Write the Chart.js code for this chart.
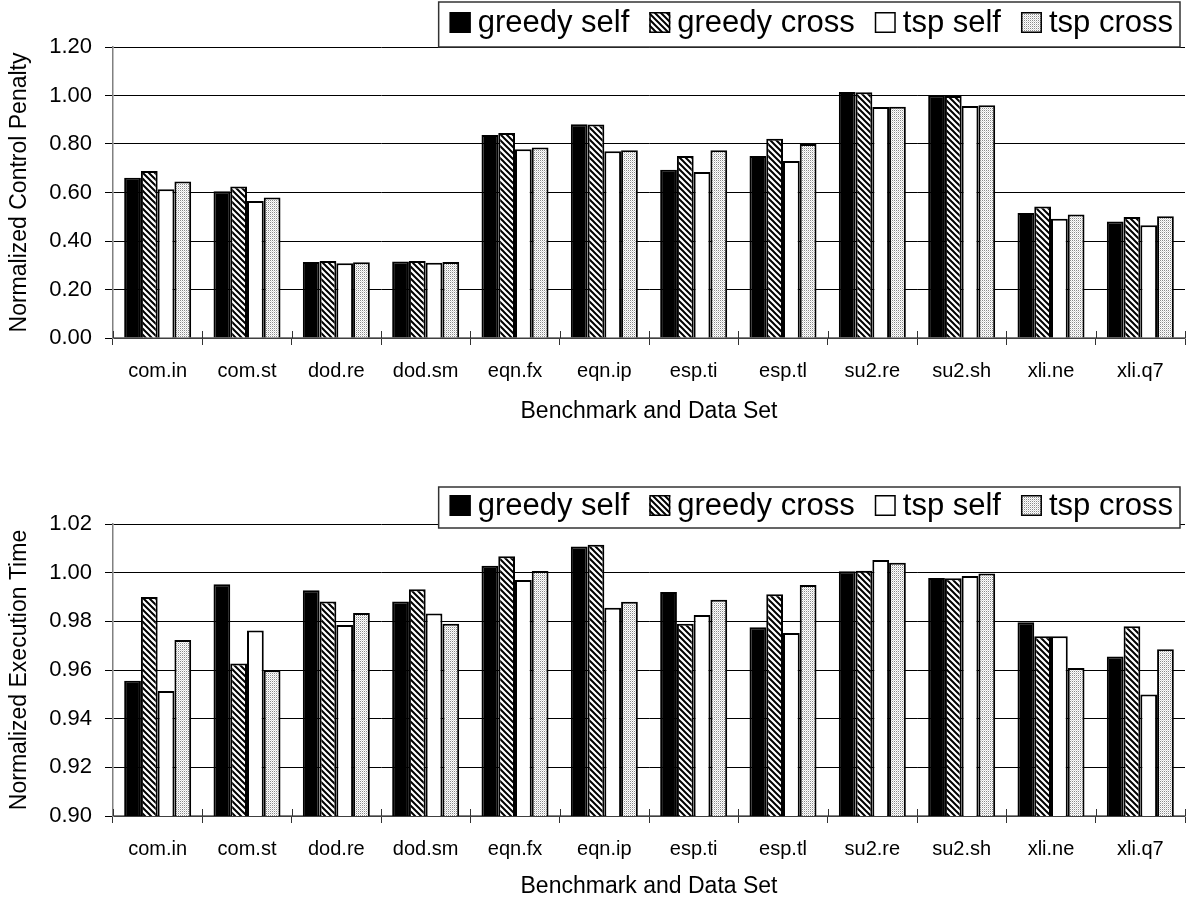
<!DOCTYPE html>
<html>
<head>
<meta charset="utf-8">
<script src="https://cdn.jsdelivr.net/npm/chart.js@4.4.0/dist/chart.umd.min.js"></script>
<style>
  body { margin: 0; background: #fff; }
  .wrap { position: absolute; left: 0; width: 1187px; }
</style>
</head>
<body>
<div class="wrap" style="top:0;height:425px"><canvas id="penalty" width="1187" height="425"></canvas></div>
<div class="wrap" style="top:425px;height:475px"><canvas id="exec" width="1187" height="475"></canvas></div>
<script>
// benchmarks and series
const benchmarks = ['com.in', 'com.st', 'dod.re', 'dod.sm', 'eqn.fx', 'eqn.ip', 'esp.ti', 'esp.tl', 'su2.re', 'su2.sh', 'xli.ne', 'xli.q7'];
const seriesNames = ['greedy self', 'greedy cross', 'tsp self', 'tsp cross'];

// top chart: normalized control penalty
const penaltyGreedySelf  = [0.661, 0.605, 0.313, 0.315, 0.837, 0.881, 0.694, 0.751, 1.014, 0.999, 0.515, 0.480];
const penaltyGreedyCross = [0.689, 0.625, 0.318, 0.318, 0.845, 0.880, 0.751, 0.822, 1.013, 0.998, 0.542, 0.499];
const penaltyTspSelf     = [0.613, 0.565, 0.308, 0.310, 0.778, 0.770, 0.685, 0.730, 0.953, 0.957, 0.492, 0.465];
const penaltyTspCross    = [0.645, 0.579, 0.312, 0.313, 0.786, 0.774, 0.774, 0.800, 0.954, 0.960, 0.509, 0.502];
const penaltyTicks = [0, 0.2, 0.4, 0.6, 0.8, 1.0, 1.2];

// bottom chart: normalized execution time
const execGreedySelf  = [0.9556, 0.9952, 0.9928, 0.9882, 1.0028, 1.0108, 0.9921, 0.9776, 1.0006, 0.9978, 0.9796, 0.9655];
const execGreedyCross = [0.9900, 0.9627, 0.9881, 0.9932, 1.0067, 1.0115, 0.9790, 0.9911, 1.0008, 0.9977, 0.9739, 0.9780];
const execTspSelf     = [0.9514, 0.9762, 0.9785, 0.9832, 0.9970, 0.9856, 0.9826, 0.9752, 1.0052, 0.9986, 0.9739, 0.9499];
const execTspCross    = [0.9723, 0.9599, 0.9834, 0.9790, 1.0007, 0.9880, 0.9889, 0.9949, 1.0041, 0.9997, 0.9608, 0.9685];
const execTicks = [0.90, 0.92, 0.94, 0.96, 0.98, 1.00, 1.02];

const FONT = '"Liberation Sans", Arial, Helvetica, sans-serif';
Chart.defaults.font.family = FONT;
Chart.defaults.color = '#000';

// fill patterns
function hatchPattern(ctx) {
  const c = document.createElement('canvas');
  c.width = 6; c.height = 6;
  const g = c.getContext('2d');
  g.fillStyle = '#fff';
  g.fillRect(0, 0, 6, 6);
  g.strokeStyle = '#000';
  g.lineWidth = 2;
  g.beginPath();
  g.moveTo(-1, -1); g.lineTo(7, 7);
  g.moveTo(-1, 5); g.lineTo(1, 7);
  g.moveTo(5, -1); g.lineTo(7, 1);
  g.stroke();
  return ctx.createPattern(c, 'repeat');
}

function dotPattern(ctx) {
  const c = document.createElement('canvas');
  c.width = 2; c.height = 2;
  const g = c.getContext('2d');
  g.fillStyle = '#fff';
  g.fillRect(0, 0, 2, 2);
  g.fillStyle = '#8a8a8a';
  g.fillRect(0, 0, 1, 1);
  g.fillStyle = '#d8d8d8';
  g.fillRect(1, 1, 1, 1);
  return ctx.createPattern(c, 'repeat');
}

// legend drawn in a box, right aligned
const boxLegend = {
  id: 'boxLegend',
  afterDraw(chart, args, opts) {
    const ctx = chart.ctx;
    ctx.save();
    ctx.font = '31px ' + FONT;
    const mk = 21, gapText = 7, gapItem = 20, padL = 11, padR = 7;
    const items = chart.data.datasets.map(ds => ({
      label: ds.label, fill: ds.backgroundColor, w: ctx.measureText(ds.label).width
    }));
    const total = padL + padR + items.reduce((s, it) => s + mk + gapText + it.w, 0) + gapItem * (items.length - 1);
    const left = opts.right - total;
    ctx.fillStyle = '#fff';
    ctx.fillRect(left, opts.top, total, opts.height);
    ctx.strokeStyle = '#333';
    ctx.lineWidth = 1.5;
    ctx.strokeRect(left, opts.top, total, opts.height);
    const cy = opts.top + opts.height / 2 - 2;
    let x = left + padL;
    items.forEach(it => {
      ctx.fillStyle = it.fill;
      ctx.fillRect(x, cy - mk / 2, mk, mk);
      ctx.strokeStyle = '#000';
      ctx.lineWidth = 1.5;
      ctx.strokeRect(x + 0.75, cy - mk / 2 + 0.75, mk - 1.5, mk - 1.5);
      ctx.fillStyle = '#000';
      ctx.textBaseline = 'middle';
      ctx.textAlign = 'left';
      ctx.fillText(it.label, x + mk + gapText, cy + 1);
      x += mk + gapText + it.w + gapItem;
    });
    ctx.restore();
  }
};

// category ticks poke above the axis too
const crossTicks = {
  id: 'crossTicks',
  afterDatasetsDraw(chart) {
    const xs = chart.scales.x;
    const y0 = chart.chartArea.bottom;
    const n = chart.data.labels.length;
    const ctx = chart.ctx;
    ctx.save();
    ctx.strokeStyle = '#333';
    ctx.lineWidth = 1;
    for (let i = 0; i <= n; i++) {
      const px = Math.round(xs.left + i * xs.width / n) + 0.5;
      ctx.beginPath();
      ctx.moveTo(px, y0 - 7);
      ctx.lineTo(px, y0);
      ctx.stroke();
    }
    ctx.restore();
  }
};

function makeChart(id, series, yTicks, yTitle, top, bottomHeight, legendTop, legendHeight) {
  const canvas = document.getElementById(id);
  const ctx = canvas.getContext('2d');
  const fills = ['#000', hatchPattern(ctx), '#fff', dotPattern(ctx)];
  return new Chart(ctx, {
    type: 'bar',
    data: {
      labels: benchmarks,
      datasets: series.map((vals, i) => ({
        label: seriesNames[i],
        data: vals,
        backgroundColor: fills[i],
        borderColor: '#000',
        borderWidth: 2,
        categoryPercentage: 0.75,
        barPercentage: 1.0
      }))
    },
    options: {
      responsive: false,
      animation: false,
      layout: { padding: { top: top, right: 2, left: 0, bottom: 0 } },
      plugins: {
        legend: { display: false },
        tooltip: { enabled: false },
        boxLegend: { right: 1180, top: legendTop, height: legendHeight }
      },
      scales: {
        x: {
          offset: true,
          grid: { offset: true, drawOnChartArea: false, color: '#333', tickLength: 7 },
          border: { color: '#808080', width: 1.5 },
          ticks: { font: { size: 20 }, color: '#000', padding: 14, maxRotation: 0, autoSkip: false },
          title: { display: true, text: 'Benchmark and Data Set', font: { size: 23 }, color: '#000', padding: { top: 0, bottom: 0 } },
          afterFit(s) { s.height = bottomHeight; }
        },
        y: {
          min: yTicks[0],
          max: yTicks[yTicks.length - 1],
          afterBuildTicks(s) { s.ticks = yTicks.map(v => ({ value: v })); },
          ticks: { font: { size: 22 }, color: '#000', padding: 13, callback: v => Number(v).toFixed(2) },
          grid: { color: '#000', lineWidth: 1, tickLength: 8 },
          border: { color: '#808080', width: 1.5 },
          title: { display: true, text: yTitle, font: { size: 23 }, color: '#000', padding: { top: 6, bottom: 0 } },
          afterFit(s) { s.width = 113; }
        }
      }
    },
    plugins: [crossTicks, boxLegend]
  });
}

makeChart('penalty',
  [penaltyGreedySelf, penaltyGreedyCross, penaltyTspSelf, penaltyTspCross],
  penaltyTicks, 'Normalized Control Penalty', 47, 425 - 338, 2, 45);

makeChart('exec',
  [execGreedySelf, execGreedyCross, execTspSelf, execTspCross],
  execTicks, 'Normalized Execution Time', 524 - 425, 475 - (816 - 425), 487 - 425, 41);
</script>
</body>
</html>
